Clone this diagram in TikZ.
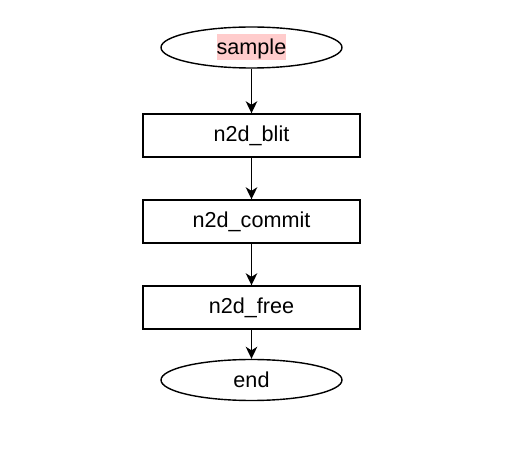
\documentclass[tikz,border=0pt]{standalone}
\usepackage{fontspec}
\setmainfont{Liberation Sans}
\usepackage{xcolor}
\usepackage{tikz}
\usetikzlibrary{positioning, shapes.geometric, arrows.meta}

\definecolor{hlpink}{HTML}{FFCCCC}
\newcommand{\hilite}[1]{{\setlength{\fboxsep}{0pt}\colorbox{hlpink}{\rule[-5.5pt]{0pt}{26pt}#1}}}

\begin{document}
\begin{tikzpicture}[x=1pt,y=1pt,
		on grid, node distance=86pt,
		every node/.style={font=\fontsize{21.6}{26}\selectfont, line width=1.4pt},
		terminal/.style={draw, ellipse, minimum width=181pt, minimum height=41pt, inner sep=0pt},
		stepbox/.style={draw, rectangle, minimum width=217pt, minimum height=43pt, inner sep=0pt},
		flow/.style={line width=1.4pt, -{Stealth[length=12pt,width=11.5pt,inset=3.5pt]}}]
		\useasboundingbox (0,0) rectangle (523,-449);
		\node[terminal] (start) at (251.5,-47.5) {\hilite{sample}};
		\node[stepbox, below=88pt of start] (blit) {n2d\_blit};
		\node[stepbox, below=of blit] (commit) {n2d\_commit};
		\node[stepbox, below=of commit] (free) {n2d\_free};
		\node[terminal, below=72.5pt of free] (end) {end};
		\draw[flow] (start) -- (blit);
		\draw[flow] (blit) -- (commit);
		\draw[flow] (commit) -- (free);
		\draw[flow] (free) -- (end);
\end{tikzpicture}
\end{document}
